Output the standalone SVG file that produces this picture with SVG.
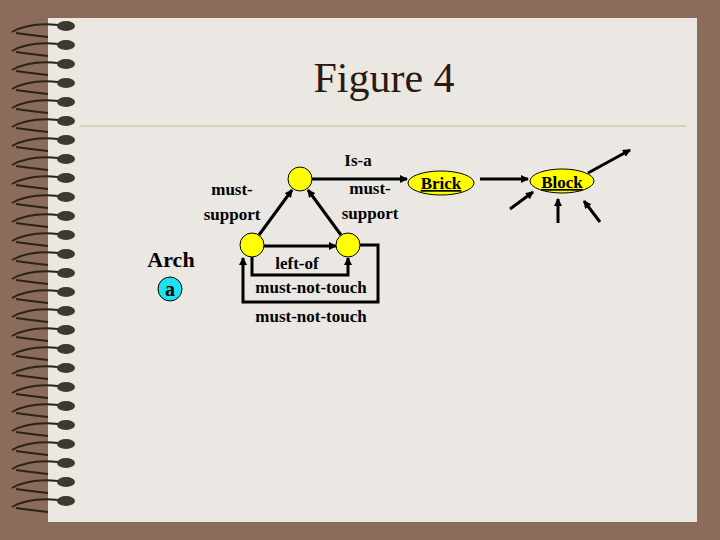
<svg xmlns="http://www.w3.org/2000/svg" width="720" height="540" viewBox="0 0 720 540">
<defs>
<marker id="ah" markerWidth="8" markerHeight="8" refX="7" refY="4" orient="auto" markerUnits="userSpaceOnUse"><path d="M0,0 L8,4 L0,8 z" fill="#000"/></marker>
<g id="ring"><path d="M12,14 Q30,4 58,7 M16,15 Q30,17 48,19" stroke="#2a2418" stroke-width="2" fill="none"/><ellipse cx="66" cy="8" rx="9" ry="5" fill="#3c3a2c"/></g>
</defs>
<style>
.t{font-family:"Liberation Serif",serif;font-weight:bold;font-size:17px;text-anchor:middle;fill:#000}
.c{stroke:#000;stroke-width:3;fill:none}
.n{fill:#ffff00;stroke:#000;stroke-width:1}
</style>
<rect width="720" height="540" fill="#8b6b5a"/>
<rect x="48" y="18" width="649" height="504" fill="#ebe7e2"/>
<g>
<use href="#ring" y="18"/><use href="#ring" y="37"/><use href="#ring" y="56"/><use href="#ring" y="75"/><use href="#ring" y="94"/><use href="#ring" y="113"/><use href="#ring" y="132"/><use href="#ring" y="151"/><use href="#ring" y="170"/><use href="#ring" y="189"/><use href="#ring" y="208"/><use href="#ring" y="227"/><use href="#ring" y="246"/><use href="#ring" y="265"/><use href="#ring" y="284"/><use href="#ring" y="303"/><use href="#ring" y="322"/><use href="#ring" y="341"/><use href="#ring" y="360"/><use href="#ring" y="379"/><use href="#ring" y="398"/><use href="#ring" y="417"/><use href="#ring" y="436"/><use href="#ring" y="455"/><use href="#ring" y="474"/><use href="#ring" y="493"/>
</g>
<text x="384" y="92" font-family="Liberation Serif,serif" font-size="42" text-anchor="middle" fill="#2a1a10">Figure 4</text>
<line x1="80" y1="126" x2="686" y2="126" stroke="#d8c8a8" stroke-width="1.5"/>
<g id="connectors">
<line class="c" x1="259" y1="235" x2="292" y2="190" marker-end="url(#ah)"/>
<line class="c" x1="341" y1="235" x2="308" y2="190" marker-end="url(#ah)"/>
<line class="c" x1="312" y1="179" x2="407" y2="179" marker-end="url(#ah)"/>
<line class="c" x1="480" y1="179" x2="528" y2="179" marker-end="url(#ah)"/>
<line class="c" x1="264" y1="246" x2="336" y2="246" marker-end="url(#ah)"/>
<polyline class="c" points="252,257 252,275 348,275 348,258" marker-end="url(#ah)"/>
<polyline class="c" points="360,245 378,245 378,302 243,302 243,258" marker-end="url(#ah)"/>
<line class="c" x1="588" y1="173" x2="630" y2="150" marker-end="url(#ah)"/>
<line class="c" x1="510" y1="209" x2="533" y2="192" marker-end="url(#ah)"/>
<line class="c" x1="558" y1="223" x2="558" y2="199" marker-end="url(#ah)"/>
<line class="c" x1="600" y1="222" x2="584" y2="201" marker-end="url(#ah)"/>
</g>
<g id="top"><circle class="n" cx="300" cy="179" r="12"/></g>
<g id="left"><circle class="n" cx="252" cy="245" r="12"/></g>
<g id="right"><circle class="n" cx="348" cy="245" r="12"/></g>
<g id="brick"><ellipse class="n" cx="441" cy="183" rx="33" ry="12"/><text class="t" x="441" y="189" text-decoration="underline">Brick</text></g>
<g id="block"><ellipse class="n" cx="562" cy="181" rx="32" ry="12"/><text class="t" x="562" y="188" text-decoration="underline">Block</text></g>
<g id="arch"><text x="171" y="267" font-family="Liberation Serif,serif" font-weight="bold" font-size="22" text-anchor="middle">Arch</text>
<circle cx="170" cy="289" r="12" fill="#1ee0f0" stroke="#000"/><text x="170" y="296" font-family="Liberation Serif,serif" font-weight="bold" font-size="20" text-anchor="middle">a</text></g>
<text class="t" x="358" y="166">Is-a</text>
<text class="t" x="232" y="195">must-</text>
<text class="t" x="232" y="220">support</text>
<text class="t" x="370" y="194">must-</text>
<text class="t" x="370" y="219">support</text>
<text class="t" x="297" y="269">left-of</text>
<text class="t" x="311" y="293">must-not-touch</text>
<text class="t" x="311" y="322">must-not-touch</text>
</svg>
